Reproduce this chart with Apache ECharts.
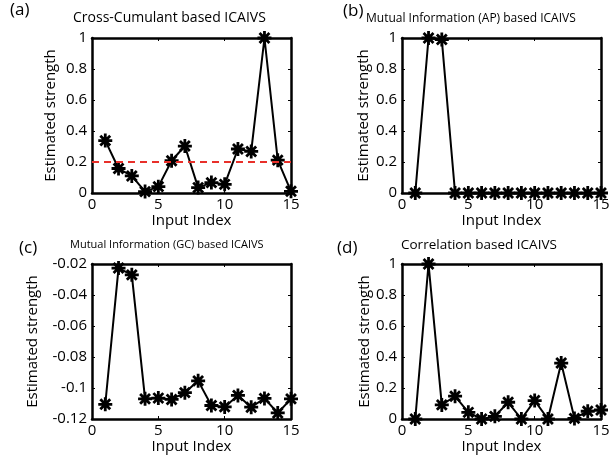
<!DOCTYPE html>
<html>
<head>
<meta charset="utf-8">
<script src="https://cdn.jsdelivr.net/npm/echarts@6/dist/echarts.min.js"></script>
<style>
  html, body { margin: 0; padding: 0; background: #fff; }
  #chart { width: 613px; height: 460px; }
</style>
</head>
<body>
<div id="chart"></div>
<script>
// Input indices shared by all four panels
const inputIndex = [1, 2, 3, 4, 5, 6, 7, 8, 9, 10, 11, 12, 13, 14, 15];

// Estimated strength per method
const crossCumulant = [0.338, 0.158, 0.110, 0.009, 0.041, 0.208, 0.303, 0.035, 0.067, 0.056, 0.284, 0.268, 1.0, 0.212, 0.011];
const mutualInfoAP = [0, 1.0, 0.99, 0, 0, 0, 0, 0, 0, 0, 0, 0, 0, 0, 0];
const mutualInfoGC = [-0.1105, -0.0226, -0.027, -0.107, -0.1065, -0.1074, -0.103, -0.0954, -0.1113, -0.1122, -0.1048, -0.1124, -0.1067, -0.1161, -0.107];
const correlation = [0, 1.0, 0.091, 0.147, 0.043, 0, 0.017, 0.108, 0, 0.119, 0, 0.361, 0.004, 0.05, 0.058];

// Threshold drawn on the cross-cumulant panel
const crossCumulantThreshold = 0.2;

// Panel titles and tags
const panelTags = ['(a)', '(b)', '(c)', '(d)'];
const panelTitles = [
  'Cross-Cumulant based ICAIVS',
  'Mutual Information (AP) based ICAIVS',
  'Mutual Information (GC) based ICAIVS',
  'Correlation based ICAIVS'
];

// Axis settings
const xTicks = { min: 0, max: 15, interval: 5 };
const yRanges = [
  { min: 0, max: 1, interval: 0.2 },
  { min: 0, max: 1, interval: 0.2 },
  { min: -0.12, max: -0.02, interval: 0.02 },
  { min: 0, max: 1, interval: 0.2 }
];
const xName = 'Input Index';
const yName = 'Estimated strength';

const FONT = '"Open Sans", "DejaVu Sans", sans-serif';
const INK = '#000';

// Asterisk marker built from four thin bars
const asterisk = 'path://' +
  'M-5,-1L5,-1L5,1L-5,1Z' +
  'M-1,-5L1,-5L1,5L-1,5Z' +
  'M-2.830,-4.243L4.243,2.830L2.830,4.243L-4.243,-2.830Z' +
  'M-4.243,2.830L2.830,-4.243L4.243,-2.830L-2.830,4.243Z';

const grids = [
  { left: 92, top: 38, width: 199, height: 155 },
  { left: 402, top: 38, width: 199, height: 155 },
  { left: 92, top: 264, width: 199, height: 155 },
  { left: 402, top: 264, width: 199, height: 155 }
];
const yNameGaps = [34, 31, 52, 30];

const seriesData = [crossCumulant, mutualInfoAP, mutualInfoGC, correlation];

function fmtY(v) {
  return String(+v.toFixed(2));
}

const xAxes = [];
const yAxes = [];
const series = [];

grids.forEach((g, i) => {
  // bottom axis with labels
  xAxes.push({
    gridIndex: i, type: 'value', position: 'bottom',
    min: xTicks.min, max: xTicks.max, interval: xTicks.interval,
    name: xName, nameLocation: 'middle', nameGap: 15,
    nameTextStyle: { fontFamily: FONT, fontSize: 15, color: INK },
    axisLine: { show: true, onZero: false, lineStyle: { color: '#000', width: 2.5 } },
    axisTick: { show: true, inside: true, length: 3, lineStyle: { color: '#000', width: 1 } },
    axisLabel: { fontFamily: FONT, fontSize: 15, color: INK, margin: 4 },
    splitLine: { show: false }
  });
  // top mirror axis
  xAxes.push({
    gridIndex: i, type: 'value', position: 'top',
    min: xTicks.min, max: xTicks.max, interval: xTicks.interval,
    axisLine: { show: true, onZero: false, lineStyle: { color: '#000', width: 2.5 } },
    axisTick: { show: true, inside: true, length: 3, lineStyle: { color: '#000', width: 1 } },
    axisLabel: { show: false },
    splitLine: { show: false }
  });
  const yr = yRanges[i];
  yAxes.push({
    gridIndex: i, type: 'value', position: 'left',
    min: yr.min, max: yr.max, interval: yr.interval,
    name: yName, nameLocation: 'middle', nameGap: yNameGaps[i], nameRotate: 90,
    nameTextStyle: { fontFamily: FONT, fontSize: 15, color: INK },
    axisLine: { show: true, onZero: false, lineStyle: { color: '#000', width: 2.5 } },
    axisTick: { show: true, inside: true, length: 3, lineStyle: { color: '#000', width: 1 } },
    axisLabel: { fontFamily: FONT, fontSize: 15, color: INK, margin: 5, formatter: fmtY },
    splitLine: { show: false }
  });
  yAxes.push({
    gridIndex: i, type: 'value', position: 'right',
    min: yr.min, max: yr.max, interval: yr.interval,
    axisLine: { show: true, onZero: false, lineStyle: { color: '#000', width: 2.5 } },
    axisTick: { show: true, inside: true, length: 3, lineStyle: { color: '#000', width: 1 } },
    axisLabel: { show: false },
    splitLine: { show: false }
  });

  const s = {
    type: 'line',
    xAxisIndex: i * 2, yAxisIndex: i * 2,
    data: inputIndex.map((x, k) => [x, seriesData[i][k]]),
    symbol: asterisk, symbolSize: 14,
    lineStyle: { color: '#000', width: 2 },
    itemStyle: { color: '#000' },
    clip: false, animation: false, z: 3
  };
  if (i === 0) {
    s.markLine = {
      silent: true, symbol: 'none', label: { show: false },
      lineStyle: { color: '#e8302a', type: [7, 5], width: 2 },
      data: [{ yAxis: crossCumulantThreshold }],
      animation: false
    };
  }
  series.push(s);
});

const titles = [
  { text: panelTitles[0], left: 73, top: 11, fontSize: 14 },
  { text: panelTitles[1], left: 366, top: 13, fontSize: 12 },
  { text: panelTitles[2], left: 70, top: 239, fontSize: 11 },
  { text: panelTitles[3], left: 401, top: 238, fontSize: 13.5 }
].map(t => ({
  text: t.text, left: t.left, top: t.top, padding: 0,
  textStyle: { fontFamily: FONT, fontSize: t.fontSize, fontWeight: 'normal', color: INK }
}));
const tagPos = [[10, 2], [343, 3], [19, 240], [337, 240]];
panelTags.forEach((tag, i) => {
  titles.push({
    text: tag, left: tagPos[i][0], top: tagPos[i][1], padding: 0,
    textStyle: { fontFamily: FONT, fontSize: 17, fontWeight: 'normal', color: INK }
  });
});

const chart = echarts.init(document.getElementById('chart'), null, { renderer: 'canvas' });
chart.setOption({
  animation: false,
  backgroundColor: '#fff',
  title: titles,
  grid: grids,
  xAxis: xAxes,
  yAxis: yAxes,
  series: series
});
</script>
</body>
</html>
